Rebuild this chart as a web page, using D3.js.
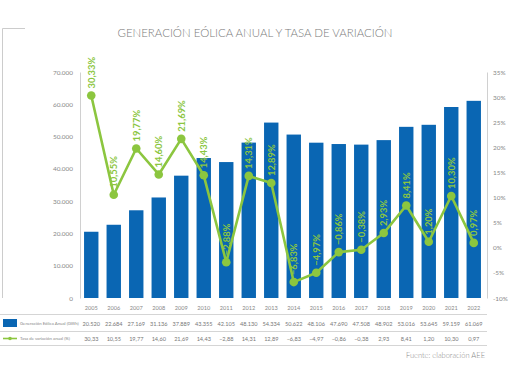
<!DOCTYPE html>
<html><head><meta charset="utf-8">
<script src="https://cdn.jsdelivr.net/npm/d3@7"></script>
<style>body{margin:0;background:#fff}svg{display:block}</style>
</head><body><svg id="c" width="510" height="382"></svg>
<script>
const years = ["2005","2006","2007","2008","2009","2010","2011","2012","2013","2014","2015","2016","2017","2018","2019","2020","2021","2022"];
const generation = [20520,22684,27169,31136,37889,43355,42105,48130,54334,50622,48106,47690,47508,48902,53016,53645,59159,61069];
const rate = [30.33,10.55,19.77,14.60,21.69,14.43,-2.88,14.31,12.89,-6.83,-4.97,-0.86,-0.38,2.93,8.41,1.20,10.30,0.97];
const leftTicks = [0,10000,20000,30000,40000,50000,60000,70000];
const rightTicks = [-10,-5,0,5,10,15,20,25,30,35];

const blue = "#0a66b3", green = "#8cc63f";
const svg = d3.select("#c");
const font = "Lato, 'Open Sans', sans-serif";

const x = d3.scaleBand().domain(years).range([80,485]).paddingInner(0.36).paddingOuter(0.18);
const yL = d3.scaleLinear().domain([0,70000]).range([298,72]);
const yR = d3.scaleLinear().domain([-10,35]).range([298,72]);
const fmtN = d3.formatLocale({decimal:",",thousands:".",grouping:[3]});
const fThousands = fmtN.format(",d");
const fPct = fmtN.format(".2f");

// frame
svg.append("path").attr("d","M25,28.5H2.5V298").attr("fill","none").attr("stroke","#ccc").attr("stroke-width",1);

// title
svg.append("text").attr("x",255).attr("y",37).attr("text-anchor","middle")
  .attr("font-family",font).attr("font-weight",300).attr("font-size",11.6).attr("fill","#7a7a7a")
  .attr("textLength",275).attr("lengthAdjust","spacingAndGlyphs")
  .text("GENERACIÓN EÓLICA ANUAL Y TASA DE VARIACIÓN");

// axes
const gL = svg.append("g").attr("transform","translate(80,0)").call(d3.axisLeft(yL).tickValues(leftTicks).tickSize(0).tickPadding(7).tickFormat(d=>d===0?"0":fThousands(d)));
const gR = svg.append("g").attr("transform","translate(487,0)").call(d3.axisRight(yR).tickValues(rightTicks).tickSize(0).tickPadding(6).tickFormat(d=>d+"%"));
[gL,gR].forEach(g=>{
  g.select(".domain").attr("stroke","#d0d0d0");
  g.selectAll("text").attr("font-family",font).attr("font-size",6.4).attr("fill","#888");
});

// bars
svg.append("g").selectAll("rect").data(years).join("rect")
  .attr("x",d=>x(d)).attr("width",x.bandwidth())
  .attr("y",(d,i)=>yL(generation[i])).attr("height",(d,i)=>yL(0)-yL(generation[i]))
  .attr("fill",blue);

// year labels
svg.append("g").selectAll("text").data(years).join("text")
  .attr("x",d=>x(d)+x.bandwidth()/2).attr("y",310).attr("text-anchor","middle")
  .attr("font-family",font).attr("font-size",5.6).attr("fill","#888").text(d=>d);

// line
const cx = d=>x(d)+x.bandwidth()/2;
svg.append("path").datum(years)
  .attr("d",d3.line().x(d=>cx(d)).y((d,i)=>yR(rate[i])))
  .attr("fill","none").attr("stroke",green).attr("stroke-width",2.6).attr("stroke-linejoin","round");
svg.append("g").selectAll("circle").data(years).join("circle")
  .attr("cx",d=>cx(d)).attr("cy",(d,i)=>yR(rate[i])).attr("r",4.3).attr("fill",green);

// rate labels
svg.append("g").selectAll("text").data(years).join("text")
  .attr("transform",(d,i)=>`translate(${cx(d)+3.3},${yR(rate[i])-7}) rotate(-90)`)
  .attr("font-family",font).attr("font-weight","bold").attr("font-size",9.4)
  .attr("fill",green)
  .text((d,i)=>fPct(rate[i])+"%");

// table
svg.append("g").selectAll("line").data([314,331,345]).join("line")
  .attr("x1",0).attr("x2",487).attr("y1",d=>d+0.5).attr("y2",d=>d+0.5).attr("stroke","#d5d5d5");
svg.append("rect").attr("x",3).attr("y",319).attr("width",14).attr("height",8).attr("fill",blue);
svg.append("line").attr("x1",3).attr("x2",17).attr("y1",338.5).attr("y2",338.5).attr("stroke",green).attr("stroke-width",1.6);
svg.append("circle").attr("cx",10).attr("cy",338.5).attr("r",1.8).attr("fill",green);
svg.append("text").attr("x",20).attr("y",325.3).attr("font-family",font).attr("font-size",4.3).attr("fill","#888")
  .text("Generación Eólica Anual (GWh)");
svg.append("text").attr("x",20).attr("y",340.3).attr("font-family",font).attr("font-size",4.3).attr("fill","#888")
  .text("Tasa de variación anual (%)");
svg.append("g").selectAll("text").data(years).join("text")
  .attr("x",d=>cx(d)).attr("y",325.5).attr("text-anchor","middle")
  .attr("font-family",font).attr("font-size",5.6).attr("fill","#777").text((d,i)=>fThousands(generation[i]));
svg.append("g").selectAll("text").data(years).join("text")
  .attr("x",d=>cx(d)).attr("y",340.5).attr("text-anchor","middle")
  .attr("font-family",font).attr("font-size",5.6).attr("fill","#777").text((d,i)=>fPct(rate[i]));

svg.append("text").attr("x",485).attr("y",358).attr("text-anchor","end")
  .attr("font-family",font).attr("font-weight",300).attr("font-size",7.5).attr("fill","#888").text("Fuente: elaboración AEE");
</script></body></html>
